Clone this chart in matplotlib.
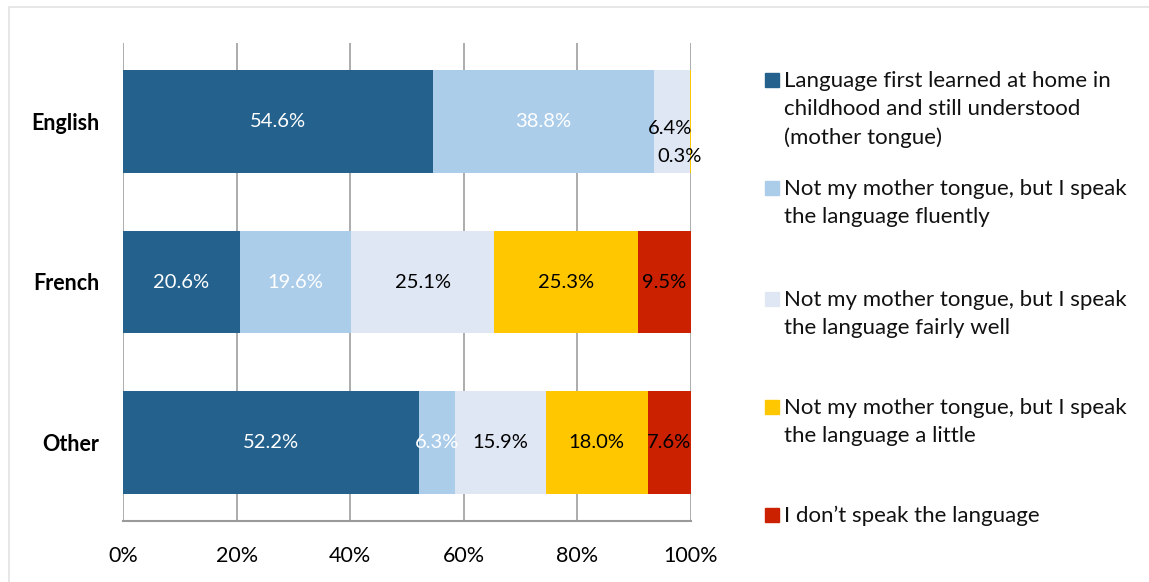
import numpy as np
import matplotlib.pyplot as plt
from matplotlib.patches import Rectangle

plt.rcParams['font.family'] = ['Lato', 'DejaVu Sans']

languages = ["English", "French", "Other"]
levels = [
    "Language first learned at home in\nchildhood and still understood\n(mother tongue)",
    "Not my mother tongue, but I speak\nthe language fluently",
    "Not my mother tongue, but I speak\nthe language fairly well",
    "Not my mother tongue, but I speak\nthe language a little",
    "I don\u2019t speak the language",
]
mother_tongue = [54.6, 20.6, 52.2]
fluent = [38.8, 19.6, 6.3]
fairly_well = [6.4, 25.1, 15.9]
a_little = [0.3, 25.3, 18.0]
not_at_all = [0.0, 9.5, 7.6]
xticks = [0, 20, 40, 60, 80, 100]

colors = ["#24618D", "#ABCDEA", "#DFE7F4", "#FFC700", "#CC2100"]
text_colors = ["white", "white", "black", "black", "black"]

series = [mother_tongue, fluent, fairly_well, a_little, not_at_all]

fig = plt.figure(figsize=(11.49, 5.82), dpi=100)
W, H = 1149, 582

# outer frame
fig.patches.append(Rectangle((9 / W, -0.05), 1.1, 1 - 7 / H + 0.05,
                             transform=fig.transFigure, fill=False,
                             edgecolor="#E3E3E3", lw=1.2))

ax = fig.add_axes([123 / W, 1 - 521 / H, (691 - 123) / W, (521 - 43) / H])

y = np.arange(len(languages))
left = np.zeros(len(languages))
for vals, c, tc in zip(series, colors, text_colors):
    vals = np.array(vals)
    ax.barh(y, vals, left=left, height=0.64, color=c, zorder=3)
    for i, v in enumerate(vals):
        if v <= 0:
            continue
        xc = left[i] + v / 2
        yc = y[i]
        if languages[i] == "English" and v < 10:
            # small segments: nudge the labels so they don't overlap
            if v > 1:
                xc, yc = left[i] + v / 2 - 0.3, y[i] + 0.04
            else:
                xc, yc = left[i] - 1.8, y[i] + 0.22
        ax.text(xc, yc, f"{v:.1f}%", ha="center", va="center",
                color=tc, fontsize=14.5, zorder=4)
    left += vals

ax.set_xlim(0, 100)
ax.set_ylim(2.49, -0.49)
ax.set_xticks(xticks)
ax.set_xticklabels([f"{t}%" for t in xticks], fontsize=15.5)
ax.set_yticks(y)
ax.set_yticklabels(languages, fontsize=15.5, fontweight="bold")
ax.tick_params(axis="x", length=0, pad=18)
ax.tick_params(axis="y", length=0, pad=17)
ax.grid(axis="x", color="#A6A6A6", lw=1.3, zorder=0)
for s in ["top", "right", "left"]:
    ax.spines[s].set_visible(False)
ax.spines["bottom"].set_color("#9A9A9A")
ax.spines["bottom"].set_linewidth(1.5)

# legend on the right
first_line = [80, 188, 299, 407, 515]
for lab, c, yy in zip(levels, colors, first_line):
    fig.patches.append(Rectangle((765 / W, 1 - (yy + 7) / H), 14 / W, 14 / H,
                                 transform=fig.transFigure, color=c))
    fig.text(784 / W, 1 - (yy - 9) / H, lab, ha="left", va="top",
             fontsize=16, linespacing=1.5, color="#111111")

fig.savefig("out.png", dpi=100)
